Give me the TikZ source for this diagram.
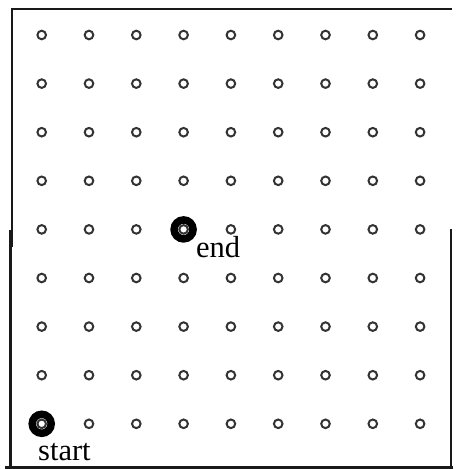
\documentclass[tikz,border=0pt]{standalone}
\usepackage{fontspec}
\setmainfont{Liberation Serif}
\begin{document}
\begin{tikzpicture}[x=1pt,y=-1pt,
  dot/.style={circle,draw=black!80,line width=2pt,minimum size=8.6pt,inner sep=0pt},
  ring/.style={circle,draw=black,line width=7.5pt,minimum size=19pt,inner sep=0pt},
  frame/.style={draw=black!90,line width=2.2pt},
  lbl/.style={anchor=base west,inner sep=0pt,font=\fontsize{30.5}{36}\selectfont}]
\useasboundingbox (0,0) rectangle (456,469);
% frame
\coordinate (tl) at (11,9);
\coordinate (tr) at (452,9);
\coordinate (lu1) at (12,9);
\coordinate (lu2) at (12,247);
\coordinate (ll1) at (10.5,230);
\coordinate (ll2) at (10.5,467);
\coordinate (bl) at (5,467.5);
\coordinate (br) at (452.5,467.5);
\coordinate (r1) at (451,229);
\coordinate (r2) at (451,467);
\draw[frame] (tl) -- (tr);
\draw[frame,line width=1.8pt] (lu1) -- (lu2);
\draw[frame,line width=2.6pt] (ll1) -- (ll2);
\draw[frame] (bl) -- (br);
\draw[frame] (r1) -- (r2);
% big rings
\node[ring] (start) at (41.7,423.8) {};
\node[ring] (end) at (183.6,229.4) {};
% grid of small circles
\foreach \i in {0,...,8}{
  \foreach \j in {0,...,8}{
    \node[dot] (c-\i-\j) at ({41.7+47.3*\i},{35+48.6*\j}) {};
  }
}
% labels
\node[lbl] (startlabel) at (38,460) {start};
\node[lbl] (endlabel) at (196,257) {end};
\end{tikzpicture}
\end{document}
